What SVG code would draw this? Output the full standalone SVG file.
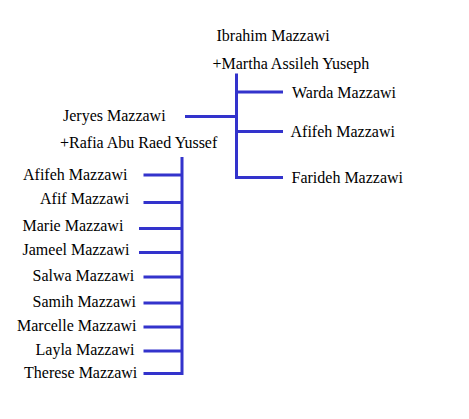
<svg xmlns="http://www.w3.org/2000/svg" width="469" height="419" viewBox="0 0 469 419">
<style>
text{font-family:"Liberation Serif","Times New Roman",serif;font-size:16px;fill:#000}
.c{fill:none;stroke:#3333cc;stroke-width:3;stroke-linecap:butt;stroke-linejoin:miter}
</style>
<rect width="469" height="419" fill="#fff"/>
<g id="connectors">
<path class="c" d="M236.5 73.5V177.5H283M236.5 92H283M236.5 131.5H283M185 116.5H236.5"/>
<path class="c" d="M182 157V373.5H143.5M143.5 175H182M143.5 202.5H182M139 228.5H182M139 252.5H182M143.5 277H182M143.5 303H182M143.5 327H182M143.5 351H182"/>
</g>
<g id="ibrahim"><text x="216.5" y="41">Ibrahim Mazzawi</text><text x="212.5" y="68.5">+Martha Assileh Yuseph</text></g>
<g id="warda"><text x="292" y="97.5">Warda Mazzawi</text></g>
<g id="afifeh1"><text x="290.5" y="136.5">Afifeh Mazzawi</text></g>
<g id="farideh"><text x="291.5" y="183">Farideh Mazzawi</text></g>
<g id="jeryes"><text x="63" y="120.5">Jeryes Mazzawi</text><text x="60" y="147.5">+Rafia Abu Raed Yussef</text></g>
<g id="afifeh2"><text x="23" y="179.5">Afifeh Mazzawi</text></g>
<g id="afif"><text x="40" y="203.5">Afif Mazzawi</text></g>
<g id="marie"><text x="22.5" y="231">Marie Mazzawi</text></g>
<g id="jameel"><text x="22.5" y="254.5">Jameel Mazzawi</text></g>
<g id="salwa"><text x="32.5" y="281">Salwa Mazzawi</text></g>
<g id="samih"><text x="32.5" y="307">Samih Mazzawi</text></g>
<g id="marcelle"><text x="17" y="331">Marcelle Mazzawi</text></g>
<g id="layla"><text x="35.5" y="355">Layla Mazzawi</text></g>
<g id="therese"><text x="24" y="378">Therese Mazzawi</text></g>
</svg>
